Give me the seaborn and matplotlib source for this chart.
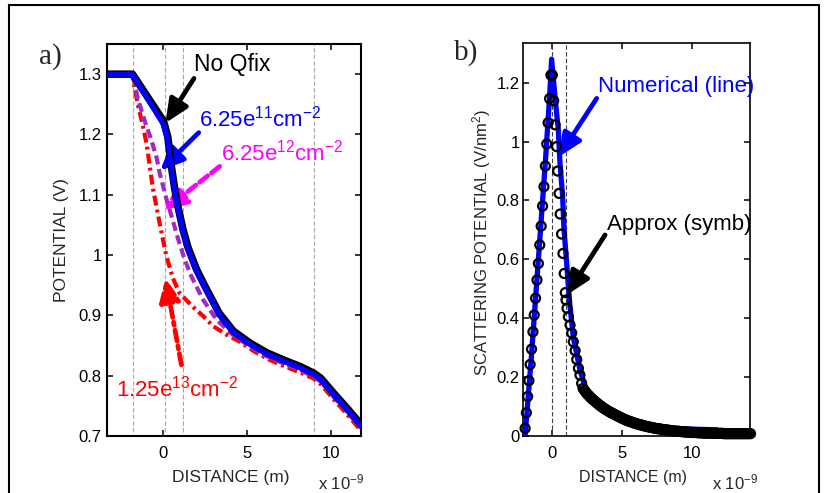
import matplotlib
matplotlib.use("Agg")
import matplotlib.pyplot as plt
from matplotlib.patches import Rectangle
import seaborn as sns

# ---------------- panel a): potential profiles (distance in nm) ----------------
nofix_x = [-3.3, -1.8, 0.05, 0.3, 0.5, 0.7, 0.9, 1.2, 1.5, 2.0, 2.5, 2.9, 3.35, 4.2,
           5.2, 6.2, 7.2, 8.2, 9.0, 9.4, 10.2, 11.0, 11.8]
nofix_y = [1.300, 1.300, 1.222, 1.196, 1.150, 1.112, 1.081, 1.043, 1.013, 0.977, 0.949,
           0.928, 0.904, 0.874, 0.854, 0.838, 0.826, 0.815, 0.804, 0.796, 0.770, 0.745, 0.719]

q11_x = [-3.3, -1.8, 0.05, 0.3, 0.5, 0.7, 0.9, 1.2, 1.5, 2.0, 2.5, 2.9, 3.35, 4.2,
         5.2, 6.2, 7.2, 8.2, 9.0, 9.4, 10.2, 11.0, 11.8]
q11_y = [1.300, 1.300, 1.216, 1.190, 1.145, 1.108, 1.078, 1.040, 1.010, 0.975, 0.947,
         0.926, 0.902, 0.872, 0.852, 0.836, 0.824, 0.813, 0.802, 0.794, 0.768, 0.743, 0.717]

q12_x = [-3.3, -1.8, -1.47, -1.07, -0.67, -0.37, -0.18, 0.2, 0.55, 0.9, 1.3, 1.7, 2.4,
         3.2, 4.2, 5.2, 6.2, 7.2, 8.2, 9.0, 9.4, 10.2, 11.0, 11.8]
q12_y = [1.300, 1.300, 1.258, 1.222, 1.190, 1.162, 1.136, 1.095, 1.062, 1.028, 0.993,
         0.965, 0.926, 0.893, 0.867, 0.848, 0.832, 0.820, 0.809, 0.798, 0.790, 0.764,
         0.739, 0.713]

q13_x = [-3.3, -1.8, -1.67, -1.47, -1.17, -0.97, -0.58, -0.2, 0.2, 0.6, 1.0, 1.8, 2.4,
         3.0, 3.8, 4.6, 5.4, 6.3, 7.3, 8.3, 9.0, 9.4, 10.2, 11.0, 11.8]
q13_y = [1.300, 1.300, 1.276, 1.248, 1.213, 1.186, 1.110, 1.055, 1.000, 0.962, 0.937,
         0.914, 0.899, 0.882, 0.868, 0.856, 0.841, 0.827, 0.815, 0.804, 0.795, 0.786,
         0.760, 0.735, 0.709]

guides_a = [-1.8, 0.15, 1.2, 9.0]
a_yticks = [0.7, 0.8, 0.9, 1.0, 1.1, 1.2, 1.3]
a_yticklabels = ["0.7", "0.8", "0.9", "1", "1.1", "1.2", "1.3"]

# ---------------- panel b): scattering potential ----------------
num_x = [-1.95, -1.5, -1.0, -0.5, -0.2, -0.05, 0.19, 0.43, 0.55, 0.74, 0.84, 1.03,
         1.15, 1.27, 1.5, 1.98, 2.46, 3.0, 4.0, 5.0, 6.0, 7.0, 8.0, 9.0, 10.0, 11.0, 11.8]
num_y = [0.0, 0.27, 0.60, 0.93, 1.15, 1.28, 1.152, 1.039, 0.926, 0.813, 0.700, 0.586,
         0.507, 0.439, 0.337, 0.224, 0.150, 0.115, 0.080, 0.055, 0.040, 0.031, 0.026,
         0.024, 0.023, 0.022, 0.021]

# approximate model: peak region
apx_x = [-1.95, -1.86, -1.77, -1.68, -1.59, -1.49, -1.39, -1.30, -1.20, -1.10, -1.00,
         -0.90, -0.80, -0.70, -0.60, -0.50, -0.40, -0.30, -0.20, -0.10,
         0.00, 0.10, 0.20, 0.30, 0.38, 0.48, 0.56, 0.66, 0.76, 0.85, 0.93, 0.98, 1.05,
         1.15, 1.27, 1.39, 1.50, 1.63, 1.75, 1.87, 1.98, 2.10, 2.20]
apx_y = [0.026, 0.079, 0.134, 0.188, 0.243, 0.295, 0.354, 0.411, 0.468, 0.530, 0.586,
         0.649, 0.713, 0.781, 0.847, 0.917, 0.992, 1.064, 1.146, 1.226,
         1.226, 1.139, 1.057, 0.983, 0.900, 0.824, 0.754, 0.686, 0.620, 0.552, 0.487,
         0.462, 0.434, 0.405, 0.377, 0.350, 0.320, 0.290, 0.260, 0.230, 0.207, 0.179,
         0.162]

# approximate model: decaying tail
tail_x = [2.3, 2.4, 2.5, 2.6, 2.7, 2.8, 2.9, 3.0, 3.1, 3.2, 3.3, 3.4, 3.5, 3.6, 3.7,
          3.8, 3.9, 4.0, 4.1, 4.2, 4.3, 4.4, 4.5, 4.6, 4.7, 4.8, 4.9, 5.0, 5.1, 5.2,
          5.3, 5.4, 5.5, 5.6, 5.7, 5.8, 5.9, 6.0, 6.1, 6.2, 6.3, 6.4, 6.5, 6.6, 6.7,
          6.8, 6.9, 7.0, 7.1, 7.2, 7.3, 7.4, 7.5, 7.6, 7.7, 7.8, 7.9, 8.0, 8.1, 8.2,
          8.3, 8.4, 8.5, 8.6, 8.7, 8.8, 8.9, 9.0, 9.1, 9.2, 9.3, 9.4, 9.5, 9.6, 9.7,
          9.8, 9.9, 10.0, 10.1, 10.2, 10.3, 10.4, 10.5, 10.6, 10.7, 10.8, 10.9, 11.0,
          11.1, 11.2, 11.3, 11.4, 11.5, 11.6, 11.7, 11.8, 11.9, 12.0, 12.1, 12.2, 12.3,
          12.4, 12.5, 12.6, 12.7, 12.8, 12.9, 13.0, 13.1, 13.2, 13.3, 13.4, 13.5, 13.6,
          13.7, 13.8, 13.9, 14.0, 14.1, 14.2]
tail_y = [0.155, 0.149, 0.143, 0.138, 0.133, 0.128, 0.124, 0.120, 0.116, 0.112, 0.108,
          0.104, 0.101, 0.097, 0.094, 0.091, 0.088, 0.085, 0.082, 0.080, 0.077, 0.075,
          0.072, 0.070, 0.067, 0.065, 0.063, 0.060, 0.058, 0.056, 0.054, 0.052, 0.050,
          0.049, 0.047, 0.045, 0.044, 0.042, 0.041, 0.039, 0.038, 0.037, 0.036, 0.034,
          0.033, 0.032, 0.031, 0.030, 0.029, 0.028, 0.027, 0.026, 0.025, 0.025, 0.024,
          0.023, 0.022, 0.022, 0.021, 0.020, 0.020, 0.019, 0.018, 0.018, 0.017, 0.017,
          0.016, 0.016, 0.016, 0.015, 0.015, 0.014, 0.014, 0.014, 0.013, 0.013, 0.013,
          0.012, 0.012, 0.012, 0.012, 0.011, 0.011, 0.011, 0.011, 0.010, 0.010, 0.010,
          0.010, 0.010, 0.010, 0.009, 0.009, 0.009, 0.009, 0.009, 0.009, 0.009, 0.009,
          0.009, 0.008, 0.008, 0.008, 0.008, 0.008, 0.008, 0.008, 0.008, 0.008, 0.008,
          0.008, 0.008, 0.008, 0.008, 0.008, 0.008, 0.008, 0.008, 0.008, 0.008]

guides_b = [0.0, 0.95]
b_yticks = [0.0, 0.2, 0.4, 0.6, 0.8, 1.0, 1.2]
b_yticklabels = ["0", "0.2", "0.4", "0.6", "0.8", "1", "1.2"]
x_ticks = [0, 5, 10]

# ---------------- style ----------------
sns.set_theme(style="white")
plt.rcParams["font.family"] = ["Liberation Sans", "DejaVu Sans"]
plt.rcParams["mathtext.fontset"] = "custom"
plt.rcParams["mathtext.rm"] = "Liberation Sans"
plt.rcParams["mathtext.it"] = "Liberation Sans:italic"
plt.rcParams["mathtext.bf"] = "Liberation Sans:bold"
plt.rcParams["mathtext.default"] = "regular"

W, H = 828, 493
fig = plt.figure(figsize=(W / 100, H / 100), dpi=100, facecolor="white")

def fx(px):
    return px / W

def fy(py):
    return 1 - py / H

ax_a = fig.add_axes([fx(107.3), fy(436), fx(361) - fx(107.3), fy(44) - fy(436)])
ax_b = fig.add_axes([fx(523.3), fy(436), fx(750.5) - fx(523.3), fy(42.7) - fy(436)])


def arrow(ax, tail, tip, color, ls="-"):
    ax.annotate("", xy=tip, xytext=tail, annotation_clip=False,
                arrowprops=dict(arrowstyle="-|>,head_length=1.0,head_width=0.45",
                                mutation_scale=14, lw=3.4, color=color,
                                linestyle=ls, shrinkA=0, shrinkB=0))


def style_axes(ax, spine_w):
    for s in ax.spines.values():
        s.set_color("black")
        s.set_linewidth(spine_w)
        s.set_visible(True)
    ax.tick_params(direction="in", length=4, width=1.1, top=True, right=True,
                   bottom=True, left=True, labelsize=12, colors="black")
    ax.tick_params(axis="x", pad=7)
    ax.set_xlabel("")
    ax.set_ylabel("")
    ax.set_facecolor("white")


def open_circles(coll):
    coll.set_facecolor("none")
    coll.set_edgecolor("black")
    coll.set_linewidth(1.6)
    coll.set_clip_on(False)


# ---- panel a ----
for g in guides_a:
    ax_a.axvline(g, ymin=0.011, ymax=1.0, color="#a8a8a8", lw=0.8,
                 linestyle=(0, (4, 2)), zorder=1)

sns.lineplot(x=q13_x, y=q13_y, ax=ax_a, color="#ff0000", lw=3.0, sort=False,
             estimator=None, linestyle=(0, (2.4, 1.0, 0.7, 1.0)), zorder=2)
sns.lineplot(x=q12_x, y=q12_y, ax=ax_a, color="#a22ac4", lw=3.0, sort=False,
             estimator=None, linestyle=(0, (2.2, 1.1)), zorder=3)
sns.lineplot(x=nofix_x, y=nofix_y, ax=ax_a, color="black", lw=5.4, sort=False,
             estimator=None, solid_capstyle="round", zorder=4)
sns.lineplot(x=q11_x, y=q11_y, ax=ax_a, color="#0000ff", lw=3.7, sort=False,
             estimator=None, solid_capstyle="round", zorder=5)

ax_a.set_xlim(-3.3, 11.8)
ax_a.set_ylim(0.7, 1.35)
ax_a.set_xticks(x_ticks)
ax_a.set_xticklabels([str(t) for t in x_ticks])
ax_a.set_yticks(a_yticks)
ax_a.set_yticklabels(a_yticklabels)
style_axes(ax_a, 1.5)
ax_a.tick_params(axis="y", pad=4)

ax_a.text(1.89, 1.305, "No Qfix", color="black", fontsize=16.5, ha="left",
          va="baseline", zorder=6)
ax_a.text(2.14, 1.213, r"6.25e$^{11}$cm$^{-2}$", color="#0000ff", fontsize=16,
          ha="left", va="baseline", zorder=6)
ax_a.text(3.49, 1.156, r"6.25e$^{12}$cm$^{-2}$", color="#ff00ff", fontsize=16,
          ha="left", va="baseline", zorder=6)
ax_a.text(-2.76, 0.765, r"1.25e$^{13}$cm$^{-2}$", color="#ff0000", fontsize=16,
          ha="left", va="baseline", zorder=6)

arrow(ax_a, (1.86, 1.293), (0.16, 1.219), "black")
arrow(ax_a, (2.14, 1.203), (-0.15, 1.140), "#0000ff")
arrow(ax_a, (3.39, 1.147), (0.06, 1.074), "#ff00ff", ls=(0, (2.2, 1.0)))
arrow(ax_a, (1.11, 0.818), (0.16, 0.962), "#ff0000", ls=(0, (2.4, 1.0, 0.7, 1.0)))

# ---- panel b ----
for g in guides_b:
    ax_b.axvline(g, color="#404040", lw=0.8, linestyle=(0, (4, 2)), zorder=1)

sns.lineplot(x=num_x, y=num_y, ax=ax_b, color="#0000ff", lw=3.8, sort=False,
             estimator=None, zorder=3)
sns.scatterplot(x=apx_x, y=apx_y, ax=ax_b, marker="o", s=42, zorder=4)
open_circles(ax_b.collections[-1])
sns.scatterplot(x=tail_x, y=tail_y, ax=ax_b, marker="o", s=42, zorder=4)
open_circles(ax_b.collections[-1])

ax_b.set_xlim(-2.08, 14.2)
ax_b.set_ylim(0, 1.336)
ax_b.set_xticks(x_ticks)
ax_b.set_xticklabels([str(t) for t in x_ticks])
ax_b.set_yticks(b_yticks)
ax_b.set_yticklabels(b_yticklabels)
style_axes(ax_b, 1.2)
ax_b.tick_params(axis="y", pad=2.5)

ax_b.text(3.30, 1.169, "Numerical (line)", color="#0000ff", fontsize=16,
          ha="left", va="baseline", zorder=6)
ax_b.text(3.90, 0.700, "Approx (symb)", color="black", fontsize=16,
          ha="left", va="baseline", zorder=6)
arrow(ax_b, (3.18, 1.147), (0.45, 0.948), "#0000ff")
arrow(ax_b, (3.78, 0.683), (1.03, 0.479), "black")

# ---- axis titles, offsets and panel letters ----
fig.text(fx(231), fy(482), "DISTANCE (m)", fontsize=12.5, ha="center", va="baseline")
fig.text(fx(633), fy(482), "DISTANCE (m)", fontsize=11.5, ha="center", va="baseline")
fig.text(fx(62), fy(240), "POTENTIAL (V)", fontsize=12.5, rotation=90,
         ha="center", va="center")
fig.text(fx(481.7), fy(242.5), r"SCATTERING POTENTIAL (V/nm$^{2}$)", fontsize=12,
         rotation=90, ha="center", va="center")
fig.text(fx(318), fy(489), r"x 10$^{-9}$", fontsize=12, ha="left", va="baseline")
fig.text(fx(711.7), fy(489), r"x 10$^{-9}$", fontsize=12, ha="left", va="baseline")
fig.text(fx(39), fy(63.3), "a)", family=["Liberation Serif", "DejaVu Serif"],
         fontsize=21, ha="left", va="baseline")
fig.text(fx(454), fy(60), "b)", family=["Liberation Serif", "DejaVu Serif"],
         fontsize=21, ha="left", va="baseline")

# outer frame
fig.add_artist(Rectangle((fx(9), -0.05), fx(819.3) - fx(9), fy(5.3) + 0.05,
                         transform=fig.transFigure, fill=False, edgecolor="black",
                         lw=1.5, zorder=10))

fig.savefig("out.png", dpi=100, facecolor="white")
